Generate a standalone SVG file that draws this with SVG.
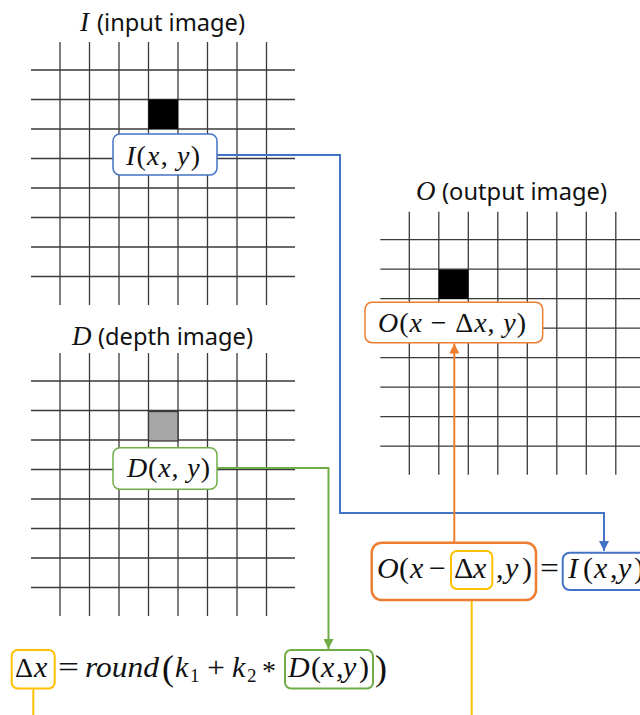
<svg xmlns="http://www.w3.org/2000/svg" xmlns:xlink="http://www.w3.org/1999/xlink" width="640" height="715" viewBox="0 0 640 715">
<defs>
<style>
.gl{stroke:#3a3a3a;stroke-width:1.3;fill:none}
.lbl{font-family:"Noto Sans","Open Sans",sans-serif;font-size:24px;fill:#111}
.m{font-family:"Liberation Serif","DejaVu Serif",serif;font-style:italic;fill:#111}
.u{font-family:"Liberation Serif","DejaVu Serif",serif;font-style:normal;fill:#111}
.box{fill:#fff;stroke-width:1.5}
.conn{fill:none;stroke-width:2}
</style>
<marker id="aB" viewBox="0 0 10 10" refX="10" refY="5" markerWidth="5" markerHeight="5" orient="auto"><path d="M0,0L10,5L0,10z" fill="#4472C4"/></marker>
<marker id="aG" viewBox="0 0 10 10" refX="10" refY="5" markerWidth="5" markerHeight="5" orient="auto"><path d="M0,0L10,5L0,10z" fill="#70AD47"/></marker>
<marker id="aO" viewBox="0 0 10 10" refX="10" refY="5" markerWidth="5" markerHeight="5" orient="auto"><path d="M0,0L10,5L0,10z" fill="#ED7D31"/></marker>
<marker id="aY" viewBox="0 0 10 10" refX="10" refY="5" markerWidth="5" markerHeight="5" orient="auto"><path d="M0,0L10,5L0,10z" fill="#FFC000"/></marker>
<g id="grid" class="gl">
<path d="M0,0V263M29.5,0V263M59,0V263M88.5,0V263M118,0V263M147.5,0V263M177,0V263M206.5,0V263"/>
<path d="M-29,28H235M-29,57.5H235M-29,87H235M-29,116.5H235M-29,146H235M-29,175.5H235M-29,205H235M-29,234.5H235"/>
</g>
</defs>
<rect width="640" height="715" fill="#fff"/>

<g id="input-image">
<text x="80" y="31" class="m" font-size="27">I</text>
<text x="97" y="31" class="lbl" textLength="148" lengthAdjust="spacingAndGlyphs">(input image)</text>
<use xlink:href="#grid" transform="translate(60,42)"/>
<rect x="148.5" y="99.5" width="29.5" height="29.5" fill="#000"/>
</g>

<g id="depth-image">
<text x="72" y="345" class="m" font-size="27">D</text>
<text x="98" y="345" class="lbl" textLength="155" lengthAdjust="spacingAndGlyphs">(depth image)</text>
<use xlink:href="#grid" transform="translate(60,353)"/>
<rect x="148.5" y="411.5" width="29.5" height="29.5" fill="#a6a6a6" stroke="#3a3a3a" stroke-width="1.3"/>
</g>

<g id="output-image">
<text x="416" y="200" class="m" font-size="27">O</text>
<text x="442" y="200" class="lbl" textLength="165" lengthAdjust="spacingAndGlyphs">(output image)</text>
<use xlink:href="#grid" transform="translate(409.3,211.7)"/>
<rect x="438.8" y="269.5" width="29.5" height="29.5" fill="#000"/>
</g>

<g id="connectors">
<path class="conn" stroke="#4472C4" d="M217,155H340V513H604V551" marker-end="url(#aB)"/>
<path class="conn" stroke="#70AD47" d="M217,468H328.5V649" marker-end="url(#aG)"/>
<path class="conn" stroke="#ED7D31" d="M454.3,542.7V343.5" marker-end="url(#aO)"/>
<path class="conn" stroke="#FFC000" d="M471.7,715V590.5" marker-end="url(#aY)"/>
<path class="conn" stroke="#FFC000" d="M33.3,689.3V715"/>
</g>

<g id="node-I">
<rect class="box" x="113" y="134" width="104" height="41" rx="7" stroke="#4472C4"/>
<text x="126" y="165" class="m" font-size="28" textLength="74" lengthAdjust="spacing">I<tspan class="u">(</tspan>x<tspan class="u">, </tspan>y<tspan class="u">)</tspan></text>
</g>

<g id="node-D">
<rect class="box" x="113" y="447.7" width="104" height="41.6" rx="7" stroke="#70AD47"/>
<text x="127" y="477" class="m" font-size="28" textLength="83" lengthAdjust="spacing">D<tspan class="u">(</tspan>x<tspan class="u">, </tspan>y<tspan class="u">)</tspan></text>
</g>

<g id="node-O">
<rect class="box" x="365" y="302.3" width="177.7" height="40.4" rx="7" stroke="#ED7D31"/>
<text x="378" y="332" class="m" font-size="28" textLength="148" lengthAdjust="spacing">O<tspan class="u">(</tspan>x<tspan class="u"> − Δ</tspan>x<tspan class="u">, </tspan>y<tspan class="u">)</tspan></text>
</g>

<g id="node-equation">
<rect x="371.7" y="542.7" width="164.3" height="57.3" rx="10" fill="#fff" stroke="#ED7D31" stroke-width="2.5"/>
<rect x="451" y="551" width="41.3" height="38" rx="6" fill="#fff" stroke="#FFC000" stroke-width="2"/>
<text y="578" class="m" font-size="30"><tspan x="377">O</tspan><tspan class="u" x="399">(</tspan><tspan x="410">x</tspan><tspan class="u" x="429">−</tspan><tspan class="u" x="454">Δ</tspan><tspan x="473">x</tspan><tspan class="u" x="496">,</tspan><tspan x="505">y</tspan><tspan class="u" x="522">)</tspan></text>
<text x="540" y="578" class="u" font-size="30" textLength="19" lengthAdjust="spacingAndGlyphs">=</text>
<rect x="562.7" y="552.7" width="90" height="37.3" rx="7" fill="#fff" stroke="#4472C4" stroke-width="2"/>
<text y="578" class="m" font-size="30"><tspan x="568">I</tspan><tspan class="u" x="583">(</tspan><tspan x="594">x</tspan><tspan class="u" x="610">,</tspan><tspan x="618">y</tspan><tspan class="u" x="634">)</tspan></text>
</g>

<g id="node-delta">
<rect x="11.7" y="650" width="43" height="38.5" rx="6" fill="#fff" stroke="#FFC000" stroke-width="2"/>
<rect x="285" y="650" width="88" height="38.5" rx="6" fill="#fff" stroke="#70AD47" stroke-width="2"/>
<text y="677" class="u" font-size="28"><tspan x="15">Δ</tspan><tspan class="m" x="34" font-size="30">x</tspan></text>
<text x="58" y="677" class="u" font-size="30" textLength="21" lengthAdjust="spacingAndGlyphs">=</text>
<text x="85" y="677" class="m" font-size="30" textLength="74" lengthAdjust="spacingAndGlyphs">round</text>
<text x="162" y="680" class="u" font-size="36">(</text>
<text y="677" class="m" font-size="30"><tspan x="175">k</tspan><tspan class="u" x="190" font-size="19" dy="5">1</tspan></text>
<text x="207" y="677" class="u" font-size="30" textLength="18" lengthAdjust="spacingAndGlyphs">+</text>
<text y="677" class="m" font-size="30"><tspan x="232">k</tspan><tspan class="u" x="247" font-size="19" dy="5">2</tspan></text>
<text x="262" y="680" class="u" font-size="28">*</text>
<text y="677" class="m" font-size="30"><tspan x="288">D</tspan><tspan class="u" x="311">(</tspan><tspan x="321">x</tspan><tspan class="u" x="336">,</tspan><tspan x="343">y</tspan><tspan class="u" x="359">)</tspan></text>
<text x="375" y="680" class="u" font-size="36">)</text>
</g>
</svg>
